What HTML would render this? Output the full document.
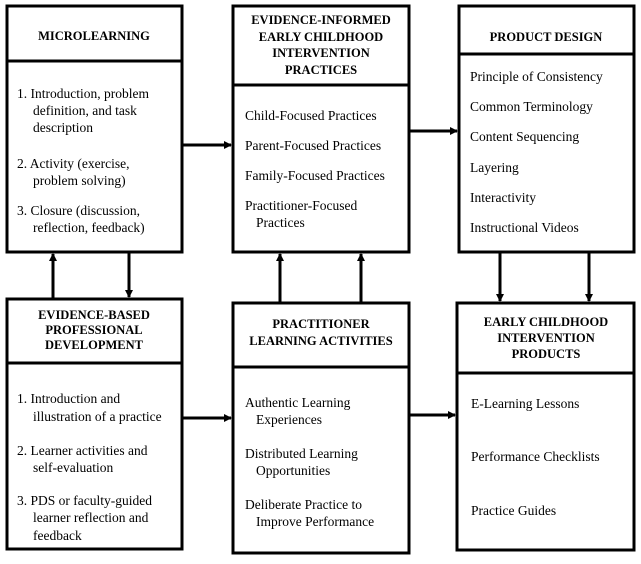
<!DOCTYPE html>
<html><head><meta charset="utf-8"><style>
html,body{margin:0;padding:0;background:#fff;}
text{font-family:"Liberation Serif","Times New Roman",serif;}
.h{font-weight:bold;font-size:12.5px;text-anchor:middle;}
.b{font-size:13.5px;}
</style></head><body>
<svg width="641" height="559" viewBox="0 0 641 559" xmlns="http://www.w3.org/2000/svg" font-family="Liberation Serif, serif">
<defs><marker id="a" markerWidth="8" markerHeight="8" refX="7" refY="4" orient="auto" markerUnits="userSpaceOnUse"><path d="M0,0 L8,4 L0,8 z" fill="#000"/></marker></defs>
<g fill="none" stroke="#000" stroke-width="3">
<rect x="7" y="6" width="175" height="246"/><line x1="7" y1="61" x2="182" y2="61"/>
<rect x="233" y="6" width="176" height="246"/><line x1="233" y1="85" x2="409" y2="85"/>
<rect x="459" y="6" width="175" height="246"/><line x1="459" y1="54" x2="634" y2="54"/>
<rect x="7" y="299" width="175" height="250"/><line x1="7" y1="363" x2="182" y2="363"/>
<rect x="233" y="303" width="176" height="250"/><line x1="233" y1="367" x2="409" y2="367"/>
<rect x="457" y="303" width="177" height="247"/><line x1="457" y1="373" x2="634" y2="373"/>
</g>
<g stroke="#000" stroke-width="3" marker-end="url(#a)">
<line x1="182" y1="145" x2="231" y2="145"/>
<line x1="409" y1="131" x2="457" y2="131"/>
<line x1="53" y1="298" x2="53" y2="254"/>
<line x1="129" y1="252" x2="129" y2="297"/>
<line x1="280" y1="302" x2="280" y2="254"/>
<line x1="361" y1="302" x2="361" y2="254"/>
<line x1="500" y1="252" x2="500" y2="301"/>
<line x1="589" y1="252" x2="589" y2="301"/>
<line x1="182" y1="418" x2="231" y2="418"/>
<line x1="409" y1="415" x2="455" y2="415"/>
</g>
<g font-family="Liberation Serif, serif">
<text class="h" x="94" y="40">MICROLEARNING</text>
<text class="b" x="17" y="98">1. Introduction, problem</text>
<text class="b" x="33" y="115">definition, and task</text>
<text class="b" x="33" y="132">description</text>
<text class="b" x="17" y="168">2. Activity (exercise,</text>
<text class="b" x="33" y="185">problem solving)</text>
<text class="b" x="17" y="215">3. Closure (discussion,</text>
<text class="b" x="33" y="232">reflection, feedback)</text>

<text class="h" x="321" y="24">EVIDENCE-INFORMED</text>
<text class="h" x="321" y="41">EARLY CHILDHOOD</text>
<text class="h" x="321" y="57">INTERVENTION</text>
<text class="h" x="321" y="74">PRACTICES</text>
<text class="b" x="245" y="120">Child-Focused Practices</text>
<text class="b" x="245" y="150">Parent-Focused Practices</text>
<text class="b" x="245" y="180">Family-Focused Practices</text>
<text class="b" x="245" y="210">Practitioner-Focused</text>
<text class="b" x="256" y="227">Practices</text>

<text class="h" x="546" y="41">PRODUCT DESIGN</text>
<text class="b" x="470" y="81">Principle of Consistency</text>
<text class="b" x="470" y="111">Common Terminology</text>
<text class="b" x="470" y="141">Content Sequencing</text>
<text class="b" x="470" y="172">Layering</text>
<text class="b" x="470" y="202">Interactivity</text>
<text class="b" x="470" y="232">Instructional Videos</text>

<text class="h" x="94" y="319">EVIDENCE-BASED</text>
<text class="h" x="94" y="334">PROFESSIONAL</text>
<text class="h" x="94" y="349">DEVELOPMENT</text>
<text class="b" x="17" y="403">1. Introduction and</text>
<text class="b" x="33" y="421">illustration of a practice</text>
<text class="b" x="17" y="455">2. Learner activities and</text>
<text class="b" x="33" y="472">self-evaluation</text>
<text class="b" x="17" y="505">3. PDS or faculty-guided</text>
<text class="b" x="33" y="522">learner reflection and</text>
<text class="b" x="33" y="540">feedback</text>

<text class="h" x="321" y="328">PRACTITIONER</text>
<text class="h" x="321" y="345">LEARNING ACTIVITIES</text>
<text class="b" x="245" y="407">Authentic Learning</text>
<text class="b" x="256" y="424">Experiences</text>
<text class="b" x="245" y="458">Distributed Learning</text>
<text class="b" x="256" y="475">Opportunities</text>
<text class="b" x="245" y="509">Deliberate Practice to</text>
<text class="b" x="256" y="526">Improve Performance</text>

<text class="h" x="546" y="326">EARLY CHILDHOOD</text>
<text class="h" x="546" y="342">INTERVENTION</text>
<text class="h" x="546" y="358">PRODUCTS</text>
<text class="b" x="471" y="408">E-Learning Lessons</text>
<text class="b" x="471" y="461">Performance Checklists</text>
<text class="b" x="471" y="515">Practice Guides</text>
</g>
</svg>
</body></html>
